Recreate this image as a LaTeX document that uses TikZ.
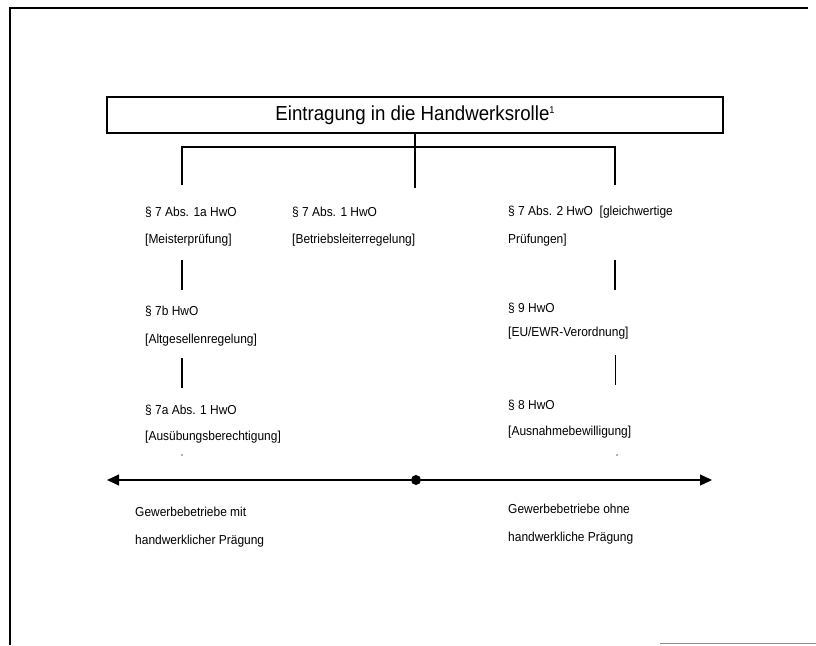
\documentclass[tikz,border=0pt]{standalone}
\usepackage{fontspec}
\setmainfont{Liberation Sans}
\newfontfamily\narrowsans[FakeStretch=0.92]{Liberation Sans}
\usetikzlibrary{arrows.meta}
\begin{document}
\begin{tikzpicture}[x=1pt,y=-1pt,
  ln/.style={line width=1.1pt,black},
  lbl/.style={anchor=west,inner sep=0pt,font=\narrowsans\fontsize{13}{15}\selectfont},
  titlebox/.style={draw,line width=1.3pt,minimum width=616pt,minimum height=36pt,inner sep=0pt,font=\narrowsans\fontsize{20.3}{22}\selectfont},
  speck/.style={fill=black!60,circle,inner sep=0pt,minimum size=1.6pt}]
\useasboundingbox (0,0) rectangle (816,645);
% frame
\draw[line width=1.2pt] (10,645) -- (10,8) -- (808,8);
\draw[line width=1pt,black!45] (660,643) -- (816,643);
% title
\node[titlebox] (title) at (415,115) {Eintragung in die Handwerksrolle\raisebox{7pt}{\fontsize{10}{10}\selectfont 1}};
% column 1
\node[lbl] (a1) at (145,212) {§ 7 Abs. 1a HwO};
\node[lbl] (a1b) at (145,240) {[Meisterprüfung]};
\node[lbl] (a2) at (145,311) {§ 7b HwO};
\node[lbl] (a2b) at (145,340) {[Altgesellenregelung]};
\node[lbl] (a3) at (145,410) {§ 7a Abs. 1 HwO};
\node[lbl] (a3b) at (145,437) {[Ausübungsberechtigung]};
% column 2
\node[lbl] (b1) at (292,212) {§ 7 Abs. 1 HwO};
\node[lbl] (b1b) at (292,240) {[Betriebsleiterregelung]};
% column 3
\node[lbl] (c1) at (508,212) {§ 7 Abs. 2 HwO\ \ [gleichwertige};
\node[lbl] (c1b) at (508,240) {Prüfungen]};
\node[lbl] (c2) at (508,308) {§ 9 HwO};
\node[lbl] (c2b) at (508,333) {[EU/EWR-Verordnung]};
\node[lbl] (c3) at (508,405) {§ 8 HwO};
\node[lbl] (c3b) at (508,432) {[Ausnahmebewilligung]};
% bottom labels
\node[lbl] (d1) at (135,512) {Gewerbebetriebe mit};
\node[lbl] (d1b) at (135,541) {handwerklicher Prägung};
\node[lbl] (e1) at (508,509) {Gewerbebetriebe ohne};
\node[lbl] (e1b) at (508,538) {handwerkliche Prägung};
% tree connectors
\coordinate (jl) at (182,147);
\coordinate (jr) at (615,147);
\coordinate (jm) at (415,188);
\coordinate (l1) at (182,185);
\coordinate (r1) at (615,185);
\draw[ln] (title.south) -- (jm);
\draw[ln] (l1) -- (jl) -- (jr) -- (r1);
\coordinate (l2a) at (182,260); \coordinate (l2b) at (182,290);
\coordinate (l3a) at (182,358); \coordinate (l3b) at (182,388);
\coordinate (r2a) at (615,260); \coordinate (r2b) at (615,290);
\coordinate (r3a) at (615,355); \coordinate (r3b) at (615,385);
\draw[ln] (l2a) -- (l2b);
\draw[ln] (l3a) -- (l3b);
\draw[ln] (r2a) -- (r2b);
\draw[line width=0.8pt] (r3a) -- (r3b);
\node[speck] (s1) at (182,455) {};
\node[speck] (s2) at (617,455) {};
% axis
\coordinate (axl) at (107,480);
\coordinate (axr) at (712,480);
\node[fill=black,circle,inner sep=0pt,minimum size=10pt] (mid) at (416,480) {};
\draw[line width=1.2pt,-{Triangle[length=12pt,width=11pt]}] (mid) -- (axr);
\draw[line width=1.2pt,-{Triangle[length=12pt,width=11pt]}] (mid) -- (axl);
\end{tikzpicture}
\end{document}
